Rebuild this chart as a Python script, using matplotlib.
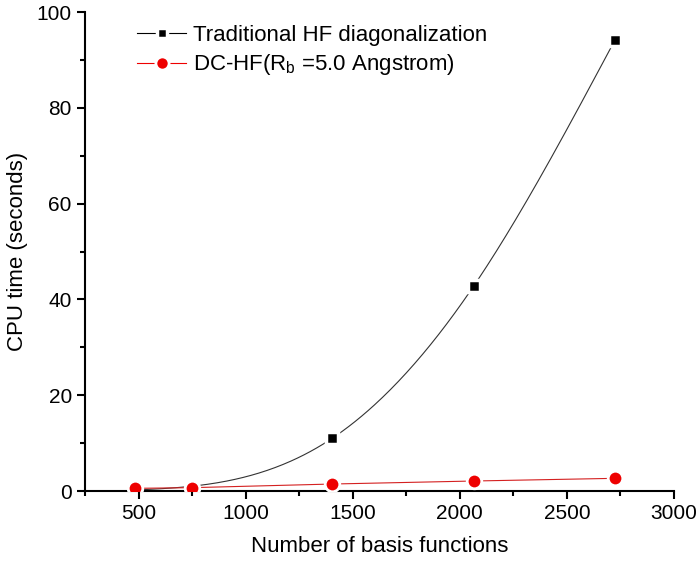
import numpy as np
import matplotlib
matplotlib.use("Agg")
import matplotlib.pyplot as plt
from matplotlib.ticker import MultipleLocator

plt.rcParams['font.family'] = ['Liberation Sans', 'DejaVu Sans']
plt.rcParams['mathtext.fontset'] = 'custom'
plt.rcParams['mathtext.rm'] = 'Liberation Sans'
plt.rcParams['mathtext.it'] = 'Liberation Sans:italic'

# data
basis = [485, 749, 1404, 2065, 2725]
hf_time = [0.2, 1.0, 11.0, 42.8, 94.2]
dc_time = [0.56, 0.7, 1.46, 2.09, 2.65]


def natural_spline(x, y, n=300):
    # plain natural cubic spline, just for drawing the smooth curve
    x = np.asarray(x, float)
    y = np.asarray(y, float)
    k = len(x)
    h = np.diff(x)
    A = np.zeros((k, k))
    b = np.zeros(k)
    A[0, 0] = A[-1, -1] = 1
    for i in range(1, k - 1):
        A[i, i - 1] = h[i - 1]
        A[i, i] = 2 * (h[i - 1] + h[i])
        A[i, i + 1] = h[i]
        b[i] = 3 * ((y[i + 1] - y[i]) / h[i] - (y[i] - y[i - 1]) / h[i - 1])
    c = np.linalg.solve(A, b)
    xs = np.linspace(x[0], x[-1], n)
    idx = np.clip(np.searchsorted(x, xs) - 1, 0, k - 2)
    dx = xs - x[idx]
    bb = (y[idx + 1] - y[idx]) / h[idx] - h[idx] * (2 * c[idx] + c[idx + 1]) / 3
    d = (c[idx + 1] - c[idx]) / (3 * h[idx])
    ys = y[idx] + bb * dx + c[idx] * dx ** 2 + d * dx ** 3
    return xs, ys


fig = plt.figure(figsize=(6.99, 5.62), dpi=100)
ax = fig.add_axes([0.1216, 0.1263, 0.8426, 0.8523])

xs, ys = natural_spline(basis, hf_time)
ax.plot(xs, ys, color='#333333', lw=0.8, zorder=2)
ax.plot(basis, hf_time, 's', color='black', ms=9, mec='white', mew=2.5, zorder=3)
ax.plot(basis, dc_time, '-', color='#d42020', lw=0.8, zorder=2)
ax.plot(basis, dc_time, 'o', color='#ee0000', ms=10.5, mec='white', mew=2, zorder=4)

# legend proxies (line-marker-line)
h1, = ax.plot([], [], '-s', color='black', lw=0.8, ms=7.5, mec='white', mew=2.5)
h2, = ax.plot([], [], '-o', color='#ee0000', lw=0.8, ms=9.5, mec='white', mew=2)
ax.legend([h1, h2], ['Traditional HF diagonalization', 'DC-HF(R$_\\mathrm{b}$ =5.0 Angstrom)'],
          loc='upper left', bbox_to_anchor=(0.074, 0.991), frameon=False,
          fontsize=16, handlelength=2.2, handletextpad=0.3, labelspacing=0.28,
          borderaxespad=0)

ax.set_xlim(250, 3000)
ax.set_ylim(0, 100)
ax.xaxis.set_major_locator(MultipleLocator(500))
ax.xaxis.set_minor_locator(MultipleLocator(250))
ax.yaxis.set_major_locator(MultipleLocator(20))
ax.yaxis.set_minor_locator(MultipleLocator(10))
ax.spines['top'].set_visible(False)
ax.spines['right'].set_visible(False)
for s in ['left', 'bottom']:
    ax.spines[s].set_linewidth(1.5)
ax.tick_params(which='major', direction='out', length=6, width=1.5, labelsize=15)
ax.tick_params(which='minor', direction='out', length=3.5, width=1.5)

ax.set_xlabel('Number of basis functions', fontsize=16, labelpad=9)
ax.set_ylabel('CPU time (seconds)', fontsize=16, labelpad=6)

fig.savefig('out.png', dpi=100)
